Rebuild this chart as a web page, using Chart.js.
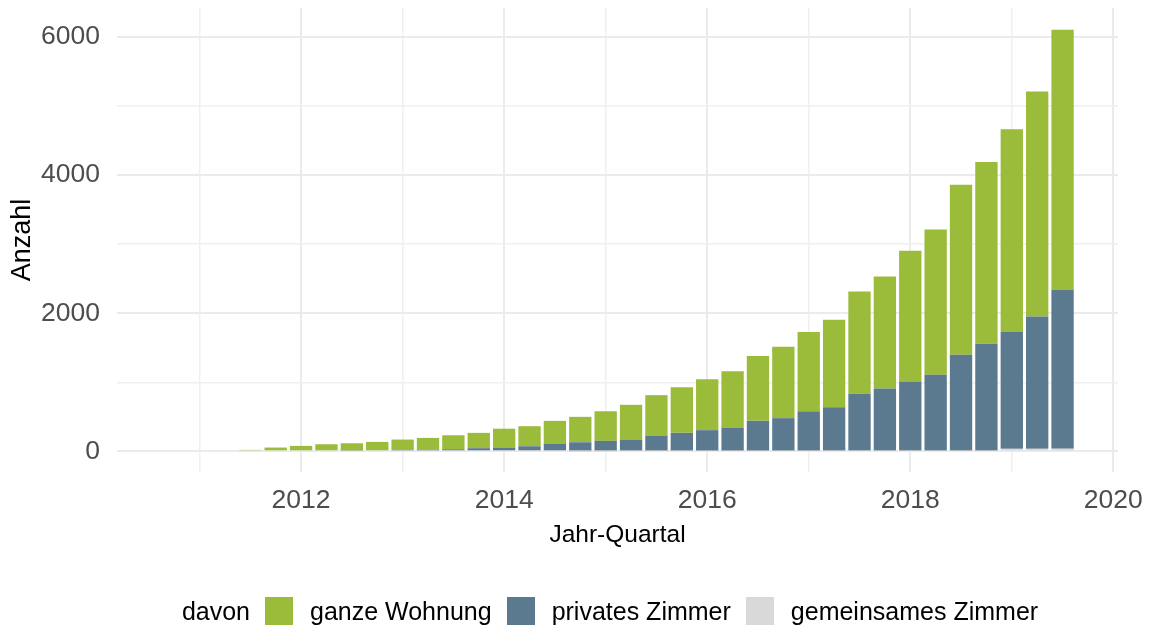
<!DOCTYPE html>
<html lang="de">
<head>
<meta charset="utf-8">
<title>Anzahl nach Jahr-Quartal</title>
<script src="https://cdn.jsdelivr.net/npm/chart.js@4"></script>
<style>
  html, body { margin: 0; padding: 0; background: #fff; }
  #wrap { position: relative; width: 1151px; height: 627px; }
  #legend {
    position: absolute; left: 117px; width: 1001px; top: 596px; height: 30px;
    display: flex; justify-content: center; align-items: center;
    font-family: "Liberation Sans", Arial, sans-serif; font-size: 25px; color: #000;
  }
  #legend .box { width: 28px; height: 28px; margin-right: 17px; }
  #legend .lbl { margin-right: 15px; }
</style>
</head>
<body>
<div id="wrap">
  <canvas id="chart" width="1151" height="627"></canvas>
  <div id="legend"></div>
</div>
<script>
// Quartale (Balken)
const quartale = [
  '2011-Q3', '2011-Q4',
  '2012-Q1', '2012-Q2', '2012-Q3', '2012-Q4',
  '2013-Q1', '2013-Q2', '2013-Q3', '2013-Q4',
  '2014-Q1', '2014-Q2', '2014-Q3', '2014-Q4',
  '2015-Q1', '2015-Q2', '2015-Q3', '2015-Q4',
  '2016-Q1', '2016-Q2', '2016-Q3', '2016-Q4',
  '2017-Q1', '2017-Q2', '2017-Q3', '2017-Q4',
  '2018-Q1', '2018-Q2', '2018-Q3', '2018-Q4',
  '2019-Q1', '2019-Q2', '2019-Q3'
];

// davon: ganze Wohnung
const ganzeWohnung = [
  20, 54,
  78, 102, 104, 121,
  152, 169, 202, 222,
  273, 290, 329, 368,
  429, 503, 585, 662,
  739, 817, 938, 1034,
  1149, 1268, 1480, 1621,
  1891, 2104, 2462, 2631,
  2937, 3260, 3769
];

// davon: privates Zimmer
const privatesZimmer = [
  0, 0,
  0, 0, 12, 15,
  18, 25, 30, 45,
  54, 73, 112, 129,
  148, 166, 223, 261,
  299, 336, 432, 470,
  568, 629, 823, 900,
  1002, 1099, 1389, 1549,
  1692, 1916, 2299
];

// davon: gemeinsames Zimmer
const gemeinsamesZimmer = [
  0, 0,
  0, 0, 0, 0,
  0, 0, 0, 0,
  0, 0, 0, 2,
  3, 4, 5, 6,
  7, 8, 9, 10,
  10, 10, 10, 10,
  10, 10, 10, 10,
  35, 35, 38
];

// gridlines (major + minor) and which of them get a label
const yGitter = [0, 1000, 2000, 3000, 4000, 5000, 6000];
const yTickLabels = [0, 2000, 4000, 6000];
const xGitter = [2011, 2012, 2013, 2014, 2015, 2016, 2017, 2018, 2019, 2020];
const xTickLabels = [2012, 2014, 2016, 2018, 2020];

const farben = {
  'ganze Wohnung': '#9BBB3B',
  'privates Zimmer': '#5B7A90',
  'gemeinsames Zimmer': '#D9D9D9'
};

// position on the time axis: year + quarter offset
function quartalZuZahl(q) {
  const [jahr, qq] = q.split('-Q');
  return Number(jahr) + (Number(qq) - 1) / 4;
}

function punkte(werte) {
  return quartale.map((q, i) => ({ x: quartalZuZahl(q), y: werte[i] }));
}

const schrift = '"Liberation Sans", Arial, sans-serif';
const istMajor = (liste, c) => c.tick && liste.includes(c.tick.value);

const ctx = document.getElementById('chart').getContext('2d');
new Chart(ctx, {
  type: 'bar',
  data: {
    datasets: [
      { label: 'gemeinsames Zimmer', data: punkte(gemeinsamesZimmer), backgroundColor: farben['gemeinsames Zimmer'] },
      { label: 'privates Zimmer', data: punkte(privatesZimmer), backgroundColor: farben['privates Zimmer'] },
      { label: 'ganze Wohnung', data: punkte(ganzeWohnung), backgroundColor: farben['ganze Wohnung'] }
    ]
  },
  options: {
    responsive: false,
    animation: false,
    events: [],
    categoryPercentage: 1.0,
    barPercentage: 0.88,
    borderWidth: 0,
    layout: { padding: { left: 0, right: 33, top: 8, bottom: 75 } },
    plugins: {
      legend: { display: false },
      tooltip: { enabled: false }
    },
    scales: {
      x: {
        type: 'linear',
        stacked: true,
        offset: false,
        min: 2010.187,
        max: 2020.046,
        border: { display: false },
        grid: {
          offset: false,
          drawTicks: false,
          color: c => istMajor(xTickLabels, c) ? '#EBEBEB' : '#F0F0F0',
          lineWidth: c => istMajor(xTickLabels, c) ? 2 : 1.5
        },
        afterBuildTicks: s => { s.ticks = xGitter.map(v => ({ value: v })); },
        ticks: {
          autoSkip: false,
          maxRotation: 0,
          padding: 13,
          color: '#4D4D4D',
          font: { family: schrift, size: 26.5 },
          callback: v => xTickLabels.includes(v) ? String(v) : ''
        },
        title: {
          display: true,
          text: 'Jahr-Quartal',
          color: '#000',
          font: { family: schrift, size: 24.5 },
          padding: { top: 0, bottom: 2 }
        },
        afterFit: s => { s.height = 80; s.paddingLeft = 0; s.paddingRight = 0; }
      },
      y: {
        stacked: true,
        min: -300,
        max: 6421,
        border: { display: false },
        grid: {
          drawTicks: false,
          color: c => istMajor(yTickLabels, c) ? '#EBEBEB' : '#F0F0F0',
          lineWidth: c => istMajor(yTickLabels, c) ? 2 : 1.5
        },
        afterBuildTicks: s => { s.ticks = yGitter.map(v => ({ value: v })); },
        ticks: {
          autoSkip: false,
          padding: 17,
          color: '#4D4D4D',
          font: { family: schrift, size: 26.5 },
          callback: v => yTickLabels.includes(v) ? String(v) : ''
        },
        title: {
          display: true,
          text: 'Anzahl',
          color: '#000',
          font: { family: schrift, size: 27 },
          padding: { top: 6, bottom: 0 }
        },
        afterFit: s => { s.width = 117; s.paddingTop = 0; s.paddingBottom = 0; }
      }
    }
  }
});

// legend below the panel, title "davon" inline as in the original
const legende = document.getElementById('legend');
const titel = document.createElement('span');
titel.className = 'lbl';
titel.textContent = 'davon';
legende.appendChild(titel);
['ganze Wohnung', 'privates Zimmer', 'gemeinsames Zimmer'].forEach(name => {
  const box = document.createElement('span');
  box.className = 'box';
  box.style.background = farben[name];
  const txt = document.createElement('span');
  txt.className = 'lbl';
  txt.textContent = name;
  legende.appendChild(box);
  legende.appendChild(txt);
});
</script>
</body>
</html>
